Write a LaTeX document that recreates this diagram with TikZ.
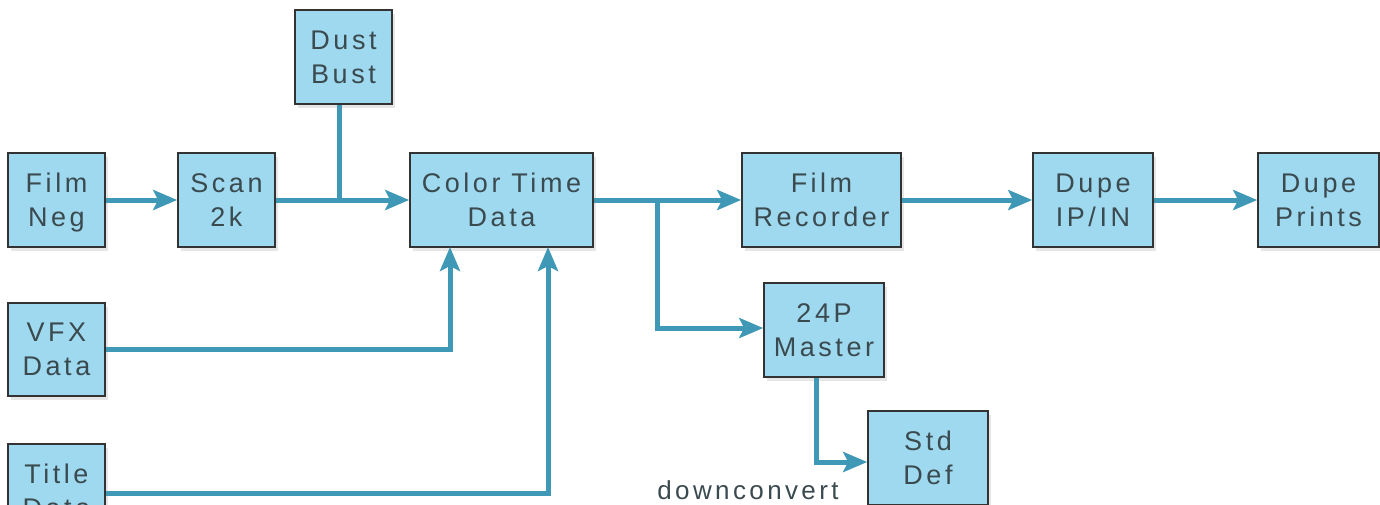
\documentclass[tikz,border=0pt]{standalone}
\usepackage{fontspec}
\setmainfont[LetterSpace=13]{Liberation Sans}
\usetikzlibrary{shadows,arrows.meta}
\definecolor{boxfill}{HTML}{9FD9F0}
\definecolor{flowline}{HTML}{3F98B6}
\definecolor{labeltext}{HTML}{3A4A4E}
\newcommand{\capline}{\rule{0pt}{20pt}}
\tikzset{
  stage/.style={draw=black!80, line width=1.6pt, fill=boxfill, align=center,
    inner sep=0pt, text=labeltext, font=\fontsize{27}{34}\selectfont,
    execute at begin node=\capline, text depth=0pt,
    drop shadow={opacity=0.2, shadow xshift=3pt, shadow yshift=-4pt}},
  flow/.style={draw=flowline, line width=5pt, -{Stealth[length=24pt,width=20pt,inset=5pt]}},
  joint/.style={draw=flowline, line width=5pt}
}

\begin{document}
\begin{tikzpicture}[x=1pt,y=-1pt]
  \useasboundingbox (0,0) rectangle (1380,504);
  \node[stage, minimum width=97, minimum height=94] (filmneg) at (56.5,200) {Film\\Neg};
  \node[stage, minimum width=97, minimum height=94] (scan) at (226.5,200) {Scan\\2k};
  \node[stage, minimum width=97, minimum height=94] (dust) at (343.5,57) {Dust\\Bust};
  \node[stage, minimum width=183, minimum height=94] (colortime) at (501.5,200) {Color Time\\Data};
  \node[stage, minimum width=159, minimum height=94] (recorder) at (821.5,200) {Film\\Recorder};
  \node[stage, minimum width=120, minimum height=94] (dupeip) at (1093,200) {Dupe\\IP/IN};
  \node[stage, minimum width=121, minimum height=94] (prints) at (1318.5,200) {Dupe\\Prints};
  \node[stage, minimum width=120, minimum height=94] (master) at (824,330) {24P\\Master};
  \node[stage, minimum width=120, minimum height=94] (stddef) at (928,458) {Std\\Def};
  \node[stage, minimum width=97, minimum height=93] (vfx) at (56.5,349.5) {VFX\\Data};
  \node[stage, minimum width=97, minimum height=94] (title) at (56.5,491) {Title\\Data};
  \node[text=labeltext, font=\fontsize{26}{32}\selectfont] (down) at (748,490) {downconvert};

  % junctions on the trunk lines
  \coordinate (dustjoin) at (339,200);
  \coordinate (split) at (657,200);
  \coordinate (vfxin) at (450,247);
  \coordinate (titlein) at (548,247);

  \draw[flow] (filmneg) to (scan);
  \draw[flow] (scan) to (colortime);
  \draw[joint] (dust.south -| dustjoin) to (dustjoin);
  \draw[flow] (colortime) to (recorder);
  \draw[flow] (recorder) to (dupeip);
  \draw[flow] (dupeip) to (prints);
  \draw[flow] (split) |- (master.west |- 0,328);
  \draw[flow] (master.south -| 816,0) |- (stddef.west |- 0,462);
  \draw[flow] (vfx.east) -| (vfxin);
  \draw[flow] (title.east |- 0,493) -| (titlein);
\end{tikzpicture}
\end{document}
